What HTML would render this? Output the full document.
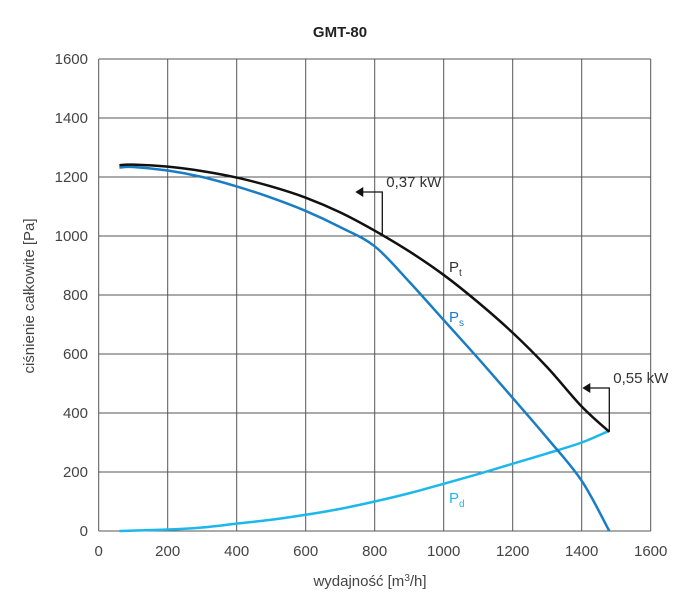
<!DOCTYPE html>
<html><head><meta charset="utf-8"><style>
body{margin:0;background:#fff;font-family:"Liberation Sans",sans-serif}
svg text{font-family:"Liberation Sans",sans-serif}
</style></head><body>
<svg width="683" height="600">
<text x="340" y="37" text-anchor="middle" font-size="15" font-weight="bold" fill="#222">GMT-80</text>
<g id="grid"></g>
<g id="series"></g>
<text x="370" y="586" text-anchor="middle" font-size="15" fill="#444">wydajność [m<tspan dy="-5" font-size="10">3</tspan><tspan dy="5">/h]</tspan></text>
<text transform="translate(34,296) rotate(-90)" text-anchor="middle" font-size="15" fill="#444">ciśnienie całkowite [Pa]</text>
</svg>
<script>
const xTicks=[0,200,400,600,800,1000,1200,1400,1600];
const yTicks=[0,200,400,600,800,1000,1200,1400,1600];
const ptX=[60,100,200,300,400,500,600,700,800,900,1000,1100,1200,1300,1400,1480];
const ptY=[1240,1242,1235,1220,1198,1168,1130,1080,1018,948,868,775,672,555,422,336];
const psX=[60,100,200,300,400,500,600,700,800,900,1000,1100,1200,1300,1400,1480];
const psY=[1232,1234,1222,1200,1168,1130,1085,1030,965,845,715,585,451,315,170,0];
const pdX=[60,200,300,400,500,600,700,800,900,1000,1100,1200,1300,1400,1480];
const pdY=[0,5,12,25,38,55,75,100,128,160,193,228,263,300,340];
const X=v=>98.7+v*69/200, Y=v=>531-v*59/200;
const ns="http://www.w3.org/2000/svg";
const grid=document.getElementById('grid'),ser=document.getElementById('series');
function mk(p,t,a){const e=document.createElementNS(ns,t);for(const k in a)e.setAttribute(k,a[k]);p.appendChild(e);return e;}
xTicks.forEach(v=>{const l=mk(grid,'line',{x1:X(v),x2:X(v),y1:Y(1600),y2:Y(0),stroke:'#555','stroke-width':1});


const t=mk(grid,'text',{x:X(v),y:556,'text-anchor':'middle','font-size':15,fill:'#444'});t.textContent=v;

});
yTicks.forEach(v=>{const l=mk(grid,'line',{x1:X(0),x2:X(1600),y1:Y(v),y2:Y(v),stroke:'#555','stroke-width':1});


const t=mk(grid,'text',{x:88,y:Y(v)+5,'text-anchor':'end','font-size':15,fill:'#444'});t.textContent=v;

});
function smooth(xs,ys){const P=xs.map((x,i)=>[X(x),Y(ys[i])]);let d='M'+P[0][0]+' '+P[0][1];for(let i=0;i<P.length-1;i++){const p0=P[i-1]||P[i],p1=P[i],p2=P[i+1],p3=P[i+2]||p2;d+=' C'+(p1[0]+(p2[0]-p0[0])/6)+' '+(p1[1]+(p2[1]-p0[1])/6)+' '+(p2[0]-(p3[0]-p1[0])/6)+' '+(p2[1]-(p3[1]-p1[1])/6)+' '+p2[0]+' '+p2[1];}return d;}
let e;
e=mk(ser,'path',{d:smooth(pdX,pdY),fill:'none',stroke:'#1cb8ec','stroke-width':2.5});


e=mk(ser,'path',{d:smooth(psX,psY),fill:'none',stroke:'#1a7dc4','stroke-width':2.5});


e=mk(ser,'path',{d:smooth(ptX,ptY),fill:'none',stroke:'#111','stroke-width':2.5});


function ann(px,py,topY,name,label){const x=X(px),y=Y(py);
const g=mk(ser,'g',{});


mk(g,'path',{d:'M'+x+' '+y+' V'+topY+' H'+(x-20),fill:'none',stroke:'#111','stroke-width':1.3});
mk(g,'path',{d:'M'+(x-27)+' '+topY+' l8 -5 v10 z',fill:'#111'});
const t=mk(g,'text',{x:x+4,y:topY-5,'font-size':15,fill:'#333'});t.textContent=label;}
ann(822,1000,192,'annotation-037kw','0,37 kW');
ann(1480,336,388,'annotation-055kw','0,55 kW');
function lab(x,y,c,m,s,name){const t=mk(ser,'text',{x:x,y:y,'font-size':15,fill:c});t.innerHTML=m+'<tspan dy="4" font-size="10">'+s+'</tspan>';

}
lab(449,272,'#333','P','t','pt-label');
lab(449,322,'#1a7dc4','P','s','ps-label');
lab(449,503,'#1cb8ec','P','d','pd-label');
</script>
</body></html>
